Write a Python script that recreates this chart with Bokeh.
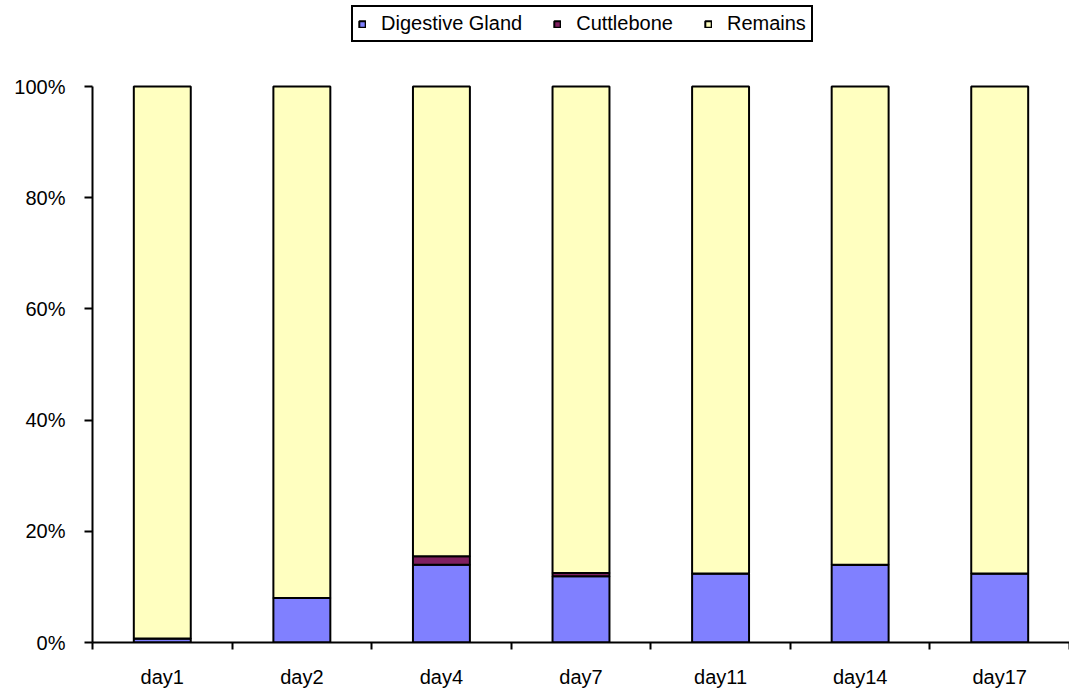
from bokeh.plotting import figure
from bokeh.models import Range1d, FixedTicker, NumeralTickFormatter, Legend, LegendItem, ColumnDataSource
from bokeh.embed import file_html
from bokeh.resources import INLINE

days = ["day1", "day2", "day4", "day7", "day11", "day14", "day17"]
digestive = [0.007, 0.080, 0.140, 0.119, 0.124, 0.140, 0.124]
cuttlebone = [0.000, 0.000, 0.015, 0.006, 0.000, 0.000, 0.000]
remains = [1 - d - c for d, c in zip(digestive, cuttlebone)]

series = ["Digestive Gland", "Cuttlebone", "Remains"]
colors = ["#8080FF", "#802060", "#FFFFC0"]

xpos = list(range(1, len(days) + 1))
src = ColumnDataSource(dict(x=xpos, **{"Digestive Gland": digestive, "Cuttlebone": cuttlebone, "Remains": remains}))

# frame spans page y 0..642; 100% sits at y=86 -> top of range = 642/556
y_top = 642 / 556
p = figure(width=1069, height=690, output_backend="svg", toolbar_location=None,
           x_range=Range1d(0.5, len(days) + 0.5), y_range=Range1d(0, y_top),
           min_border_left=92, min_border_right=0, min_border_bottom=48, min_border_top=0)
p.outline_line_color = None
p.xgrid.grid_line_color = None
p.ygrid.grid_line_color = None

rs = p.vbar_stack(series, x="x", width=0.408, source=src, fill_color=colors,
                  line_color="black", line_width=2)

font = "Liberation Sans"
# x axis
p.xaxis.ticker = FixedTicker(ticks=xpos, minor_ticks=[i + 0.5 for i in range(0, len(days) + 1)])
p.xaxis.major_label_overrides = {i: d for i, d in zip(xpos, days)}
p.xaxis.major_tick_line_color = None
p.xaxis.minor_tick_line_color = "black"
p.xaxis.minor_tick_line_width = 2
p.xaxis.minor_tick_out = 7
p.xaxis.minor_tick_in = 0
p.xaxis.axis_line_width = 2
p.xaxis.major_label_standoff = 16
p.xaxis.major_label_text_font = font
p.xaxis.major_label_text_font_size = "20px"
p.xaxis.major_label_text_color = "black"

# y axis
p.yaxis.ticker = FixedTicker(ticks=[0, 0.2, 0.4, 0.6, 0.8, 1.0])
p.yaxis.bounds = (0, 1)
p.yaxis.formatter = NumeralTickFormatter(format="0%")
p.yaxis.axis_line_width = 2
p.yaxis.major_tick_line_width = 2
p.yaxis.major_tick_out = 8
p.yaxis.major_tick_in = 0
p.yaxis.minor_tick_line_color = None
p.yaxis.major_label_standoff = 19
p.yaxis.major_label_text_font = font
p.yaxis.major_label_text_font_size = "20px"
p.yaxis.major_label_text_color = "black"

legend = Legend(items=[LegendItem(label=s, renderers=[r]) for s, r in zip(series, rs)],
                orientation="horizontal", location=(259, 600))
legend.label_text_font = font
legend.label_text_font_size = "20px"
legend.label_text_color = "black"
legend.glyph_width = 8
legend.glyph_height = 8
legend.border_line_color = "black"
legend.border_line_alpha = 1.0
legend.border_line_width = 2
legend.background_fill_color = "white"
legend.background_fill_alpha = 1.0
legend.padding = 5
legend.spacing = 31
legend.label_standoff = 15
legend.margin = 0
p.add_layout(legend, "center")

open("out.html", "w").write(file_html(p, INLINE))
